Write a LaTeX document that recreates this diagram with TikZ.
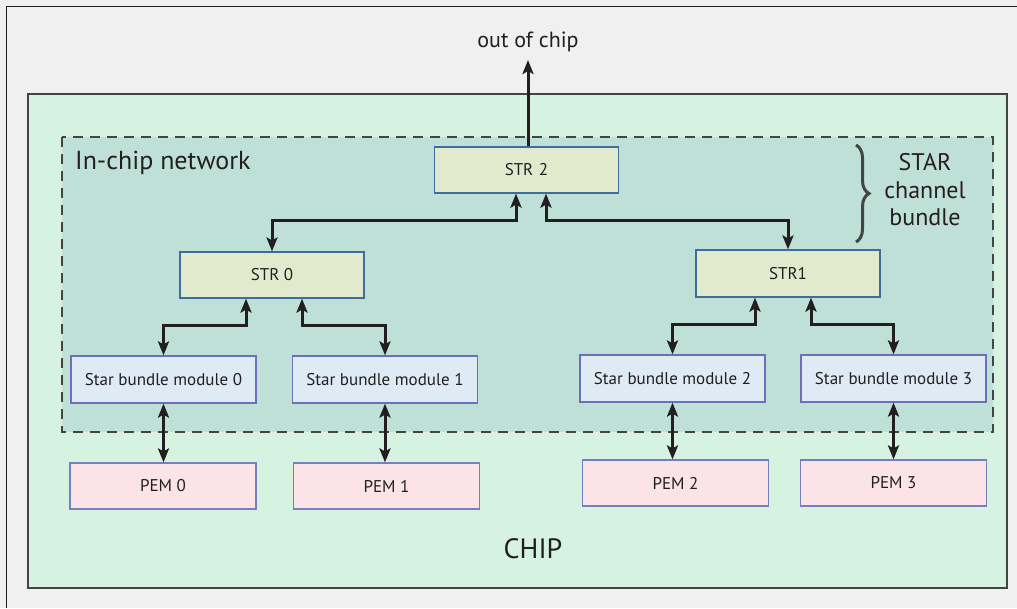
\documentclass[tikz,border=0pt]{standalone}
\usepackage{fontspec}
\setmainfont{PT Sans}
\usetikzlibrary{arrows.meta,decorations.pathreplacing}

\definecolor{pagebg}{HTML}{F0F0F0}
\definecolor{chipfill}{HTML}{D6F2E0}
\definecolor{netfill}{HTML}{BFE0D6}
\definecolor{strfill}{HTML}{E2EACE}
\definecolor{strline}{HTML}{3F6B9E}
\definecolor{sbmfill}{HTML}{DEEAF4}
\definecolor{sbmline}{HTML}{6C70BC}
\definecolor{pemfill}{HTML}{FBE3E7}
\definecolor{pemline}{HTML}{7A7EC0}
\definecolor{edge}{HTML}{444444}
\definecolor{ink}{HTML}{231F20}

\tikzset{
  tip/.tip={Stealth[length=14pt,width=11pt,inset=3pt]},
  box/.style={rectangle, inner sep=0pt, line width=1.2pt, text=ink,
    font=\fontsize{17}{19}\selectfont},
  strbox/.style={box, draw=strline, fill=strfill, minimum width=184pt, minimum height=46pt},
  sbmbox/.style={box, draw=sbmline, fill=sbmfill, minimum width=185pt, minimum height=47pt},
  pembox/.style={box, draw=pemline, fill=pemfill, minimum width=186pt, minimum height=46pt},
  link/.style={line width=3pt, ink, tip-tip},
  uplink/.style={line width=3pt, ink, -tip},
  label/.style={text=ink, inner sep=0pt},
}

\begin{document}
\begin{tikzpicture}[x=1pt, y=-1pt]
  % page and frame
  \fill[pagebg] (0,0) rectangle (1017,608);
  \useasboundingbox (0,0) rectangle (1017,608);
  \draw[line width=1.6pt, ink] (6.5,608) -- (6.5,6.5) -- (1017,6.5);

  % chip
  \draw[line width=2pt, edge, fill=chipfill] (27.5,94) rectangle (1006.5,588);

  % in-chip network area
  \fill[netfill] (62,137) rectangle (993,432);
  \draw[line width=1.4pt, edge, dash pattern=on 10pt off 7pt] (62,137) rectangle (993,432);

  % labels
  \node[label, anchor=base west, font=\fontsize{26}{28}\selectfont] (netlabel) at (75,169) {In-chip network};
  \node[label, font=\fontsize{28}{30}\selectfont] (chiplabel) at (533,549) {CHIP};
  \node[label, font=\fontsize{22}{24}\selectfont] (outlabel) at (528,42) {out of chip};
  \node[label, align=center, font=\fontsize{24}{27.5}\selectfont] (starlabel) at (925,190) {STAR\\channel\\bundle};

  % brace
  \draw[line width=3pt, edge, decorate, decoration={brace, amplitude=13pt}]
    (856,145) -- (856,242);

  % routers
  \node[strbox] (str2) at (526.5,170) {STR\,\,2};
  \node[strbox] (str0) at (272,275) {STR 0};
  \node[strbox, minimum height=47pt] (str1) at (788,273.5) {STR1};

  % bundle modules
  \node[sbmbox] (sbm0) at (163.5,379.5) {Star bundle module 0};
  \node[sbmbox] (sbm1) at (385,379.5) {Star bundle module 1};
  \node[sbmbox] (sbm2) at (672.5,378.5) {Star bundle module 2};
  \node[sbmbox] (sbm3) at (893.5,378.5) {Star bundle module 3};

  % processing element modules
  \node[pembox] (pem0) at (163,486) {PEM 0};
  \node[pembox] (pem1) at (386.5,486) {PEM 1};
  \node[pembox] (pem2) at (675.5,483) {PEM 2};
  \node[pembox] (pem3) at (893.5,483) {PEM 3};

  % off-chip link
  \coordinate (outtip) at (528,60);
  \draw[uplink] (str2.north -| outtip) -- (outtip);

  % router tree
  \draw[link] ([xshift=-10.5pt]str2.south) -- ++(0,27) -| (str0.north);
  \draw[link] ([xshift=19.5pt]str2.south) -- ++(0,27) -| (str1.north);

  \draw[link] ([xshift=-26pt]str0.south) -- ++(0,27) -| (sbm0.north);
  \draw[link] ([xshift=30pt]str0.south) -- ++(0,27) -| (sbm1.north);
  \draw[link] ([xshift=-33pt]str1.south) -- ++(0,27) -| (sbm2.north);
  \draw[link] ([xshift=23pt]str1.south) -- ++(0,27) -| (sbm3.north);

  % module to PEM links
  \draw[link] (sbm0.south) -- (sbm0.south |- pem0.north);
  \draw[link] (sbm1.south) -- (sbm1.south |- pem1.north);
  \draw[link] (sbm2.south) -- (sbm2.south |- pem2.north);
  \draw[link] (sbm3.south) -- (sbm3.south |- pem3.north);
\end{tikzpicture}
\end{document}
